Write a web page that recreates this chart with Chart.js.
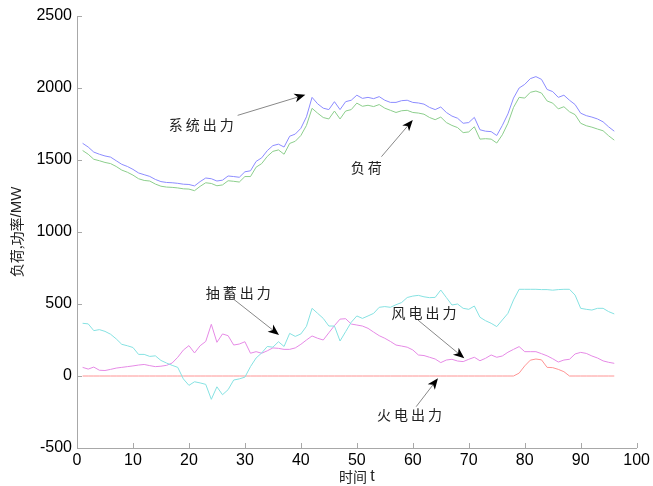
<!DOCTYPE html>
<html>
<head>
<meta charset="utf-8">
<script src="https://cdn.jsdelivr.net/npm/chart.js@4.4.0/dist/chart.umd.min.js"></script>
<style>
  html, body { margin: 0; padding: 0; background: #fff; }
</style>
</head>
<body>
<canvas id="grafico" width="653" height="486"></canvas>
<script>
// time index 1..96
const tiempo = [1,2,3,4,5,6,7,8,9,10,11,12,13,14,15,16,17,18,19,20,21,22,23,24,25,26,27,28,29,30,31,32,
  33,34,35,36,37,38,39,40,41,42,43,44,45,46,47,48,49,50,51,52,53,54,55,56,57,58,59,60,61,62,63,64,
  65,66,67,68,69,70,71,72,73,74,75,76,77,78,79,80,81,82,83,84,85,86,87,88,89,90,91,92,93,94,95,96];

// 系统出力
const sistema = [1616,1590,1555,1540,1528,1520,1495,1470,1455,1435,1410,1398,1386,1365,1350,1344,
  1342,1338,1332,1330,1320,1350,1375,1370,1354,1360,1389,1385,1380,1418,1425,1490,
  1515,1565,1600,1610,1590,1665,1680,1720,1800,1935,1890,1860,1850,1905,1850,1905,
  1915,1950,1928,1935,1926,1940,1915,1900,1900,1912,1915,1900,1896,1888,1865,1850,
  1868,1830,1805,1790,1755,1760,1796,1710,1700,1697,1670,1740,1820,1930,2000,2025,
  2065,2079,2060,1990,1975,1935,1950,1915,1885,1825,1808,1798,1785,1765,1730,1700];

// 负荷
const carga = [1566,1540,1505,1495,1483,1475,1455,1430,1415,1395,1370,1358,1354,1333,1318,1312,
  1310,1306,1300,1298,1287,1317,1342,1337,1321,1327,1356,1352,1347,1385,1385,1450,
  1475,1525,1560,1570,1540,1615,1630,1670,1740,1859,1825,1795,1785,1840,1785,1840,
  1850,1895,1873,1880,1871,1885,1860,1845,1830,1842,1845,1830,1826,1818,1795,1780,
  1798,1760,1740,1725,1690,1695,1731,1645,1648,1645,1618,1675,1755,1865,1935,1930,
  1970,1979,1965,1910,1895,1855,1870,1835,1815,1755,1738,1728,1715,1703,1668,1638];

// 抽蓄出力
const bombeo = [366,362,315,322,310,290,258,220,210,198,150,150,136,140,108,90,
  74,60,-20,-65,-40,-48,-58,-162,-75,-130,-95,-28,-20,-8,65,125,
  160,205,200,238,205,296,275,292,345,470,435,400,347,347,243,308,
  373,417,400,417,435,477,482,477,495,510,545,555,560,550,544,546,
  597,545,493,500,470,463,486,408,384,366,343,389,435,528,602,602,
  602,602,600,600,596,600,602,602,562,470,463,458,470,470,447,431];

// 风电出力
const viento = [60,48,62,40,38,46,55,60,65,70,76,80,72,65,68,74,
  90,130,180,211,160,210,240,359,234,292,280,215,222,238,158,169,
  158,175,195,192,185,185,195,220,250,278,262,250,300,350,395,398,
  361,354,347,331,305,280,262,240,215,208,200,181,146,142,130,118,
  93,111,116,104,100,116,130,106,123,146,130,139,165,185,204,169,
  169,169,155,140,120,97,111,116,153,164,157,139,125,105,95,88];

// 火电出力
const termica = [0,0,0,0,0,0,0,0,0,0,0,0,0,0,0,0,
  0,0,0,0,0,0,0,0,0,0,0,0,0,0,0,0,
  0,0,0,0,0,0,0,0,0,0,0,0,0,0,0,0,
  0,0,0,0,0,0,0,0,0,0,0,0,0,0,0,0,
  0,0,0,0,0,0,0,0,0,0,0,0,0,0,20,70,
  110,118,112,60,58,46,30,0,0,0,0,0,0,0,0,0];

const yTicks = [-500, 0, 500, 1000, 1500, 2000, 2500];
const xTicks = [0, 10, 20, 30, 40, 50, 60, 70, 80, 90, 100];

// annotation texts with [t, value] anchors
const notas = [
  { texto: "系统出力", en: [22.2, 1743], cola: [28.7, 1810], punta: [40.8, 1953] },
  { texto: "负荷", en: [51.7, 1444], cola: [54.4, 1523], punta: [60.0, 1778] },
  { texto: "抽蓄出力", en: [28.8, 578], cola: [27.8, 539], punta: [36.1, 285] },
  { texto: "风电出力", en: [62.0, 437], cola: [60.9, 389], punta: [69.2, 123] },
  { texto: "火电出力", en: [59.4, -271], cola: [60.6, -213], punta: [64.5, -16] },
];

const CJK = '"Noto Sans CJK SC", sans-serif';
const LAT = '"Liberation Sans", Arial, sans-serif';

const serie = (arr) => arr.map((v, i) => ({ x: tiempo[i], y: v }));

const linea = (label, data, color) => ({
  label: label,
  data: serie(data),
  borderColor: color,
  borderWidth: 1,
  pointRadius: 0,
  tension: 0,
  fill: false,
});

const marcas = {
  id: "marcas",
  afterDraw(chart) {
    const { ctx, chartArea: a, scales } = chart;
    const x = scales.x, y = scales.y;
    ctx.save();
    ctx.strokeStyle = "#a8a8a8";
    ctx.lineWidth = 1;
    xTicks.forEach((t) => {
      const px = Math.round(x.getPixelForValue(t)) + 0.5;
      ctx.beginPath();
      ctx.moveTo(px, a.bottom);
      ctx.lineTo(px, a.bottom - 5);
      ctx.stroke();
    });
    yTicks.forEach((t) => {
      const py = Math.round(y.getPixelForValue(t)) + 0.5;
      ctx.beginPath();
      ctx.moveTo(a.left, py);
      ctx.lineTo(a.left + 5, py);
      ctx.stroke();
    });

    // annotations
    notas.forEach((n) => {
      const tx = x.getPixelForValue(n.en[0]), ty = y.getPixelForValue(n.en[1]);
      const x0 = x.getPixelForValue(n.cola[0]), y0 = y.getPixelForValue(n.cola[1]);
      const x1 = x.getPixelForValue(n.punta[0]), y1 = y.getPixelForValue(n.punta[1]);
      ctx.font = "14px " + CJK;
      ctx.fillStyle = "#222";
      ctx.textAlign = "center";
      ctx.textBaseline = "middle";
      try { ctx.letterSpacing = "3px"; } catch (e) {}
      ctx.fillText(n.texto, tx + 1.5, ty);
      try { ctx.letterSpacing = "0px"; } catch (e) {}

      const ang = Math.atan2(y1 - y0, x1 - x0);
      const L = 11, W = 4.5, B = 8;
      const bx = x1 - B * Math.cos(ang), by = y1 - B * Math.sin(ang);
      ctx.strokeStyle = "#888";
      ctx.beginPath();
      ctx.moveTo(x0, y0);
      ctx.lineTo(bx, by);
      ctx.stroke();
      ctx.fillStyle = "#000";
      ctx.beginPath();
      ctx.moveTo(x1, y1);
      ctx.lineTo(x1 - L * Math.cos(ang) + W * Math.sin(ang), y1 - L * Math.sin(ang) - W * Math.cos(ang));
      ctx.lineTo(bx, by);
      ctx.lineTo(x1 - L * Math.cos(ang) - W * Math.sin(ang), y1 - L * Math.sin(ang) + W * Math.cos(ang));
      ctx.closePath();
      ctx.fill();
    });

    // axis titles
    ctx.fillStyle = "#222";
    ctx.textBaseline = "middle";
    ctx.textAlign = "left";
    ctx.font = "14px " + CJK;
    const p1 = "负荷,功率";
    const w1 = ctx.measureText(p1).width;
    ctx.font = "15px " + LAT;
    const p2 = "/MW";
    const w2 = ctx.measureText(p2).width;
    ctx.save();
    ctx.translate(17, (a.top + a.bottom) / 2);
    ctx.rotate(-Math.PI / 2);
    const s = -(w1 + w2) / 2;
    ctx.font = "14px " + CJK;
    ctx.fillText(p1, s, 0);
    ctx.font = "15px " + LAT;
    ctx.fillText(p2, s + w1, 0);
    ctx.restore();

    ctx.font = "14px " + CJK;
    const q1 = "时间 ";
    const v1 = ctx.measureText(q1).width;
    ctx.font = "16px " + LAT;
    const q2 = "t";
    const v2 = ctx.measureText(q2).width;
    const cx = (a.left + a.right) / 2 - (v1 + v2) / 2;
    ctx.font = "14px " + CJK;
    ctx.fillText(q1, cx, 477);
    ctx.font = "16px " + LAT;
    ctx.fillText(q2, cx + v1, 477);
    ctx.restore();
  },
};

Chart.defaults.font.family = LAT;
Chart.defaults.font.size = 16;
Chart.defaults.color = "#000";

const lienzo = document.getElementById("grafico");
const grafico = new Chart(lienzo, {
  type: "line",
  data: {
    datasets: [
      linea("系统出力", sistema, "#8c8cff"),
      linea("负荷", carga, "#8cce8c"),
      linea("抽蓄出力", bombeo, "#86e2e2"),
      linea("风电出力", viento, "#e68ae6"),
      linea("火电出力", termica, "#ff9494"),
    ],
  },
  options: {
    responsive: false,
    animation: false,
    devicePixelRatio: 1,
    layout: { padding: { left: 0, right: 13, top: 16, bottom: 0 } },
    plugins: { legend: { display: false }, tooltip: { enabled: false } },
    scales: {
      x: {
        type: "linear",
        min: 0,
        max: 100,
        afterFit: (s) => { s.height = 38; },
        afterBuildTicks: (s) => { s.ticks = xTicks.map((v) => ({ value: v })); },
        ticks: { padding: 3, maxRotation: 0, autoSkip: false, callback: (v) => String(v) },
        grid: { display: true, drawOnChartArea: false, drawTicks: false },
        border: { display: true, color: "#a8a8a8" },
      },
      y: {
        type: "linear",
        min: -500,
        max: 2500,
        afterFit: (s) => { s.width = 77; },
        afterBuildTicks: (s) => { s.ticks = yTicks.map((v) => ({ value: v })); },
        ticks: { padding: 5, autoSkip: false, callback: (v) => String(v) },
        grid: { display: true, drawOnChartArea: false, drawTicks: false },
        border: { display: true, color: "#a8a8a8" },
      },
    },
  },
  plugins: [marcas],
});
</script>
</body>
</html>
